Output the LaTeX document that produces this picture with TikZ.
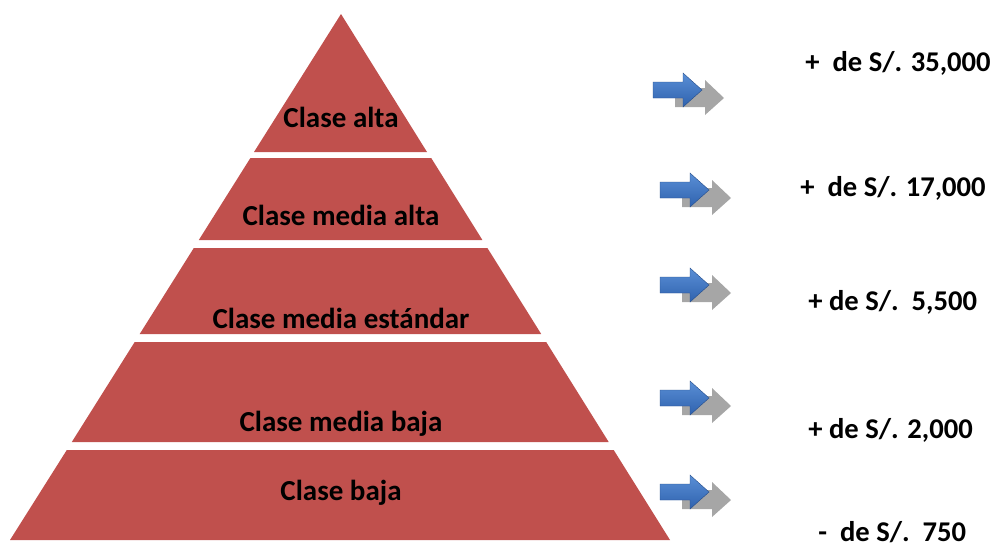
\documentclass[tikz,border=0pt]{standalone}
\usepackage{fontspec}
\setmainfont{Carlito}
\usepackage{xcolor}
\definecolor{bandred}{HTML}{C0504D}
\definecolor{arrowtop}{HTML}{5A8FD6}
\definecolor{arrowbot}{HTML}{2F62AE}
\definecolor{arrowgray}{HTML}{A6A6A6}

\tikzset{
    band/.style={fill=bandred, draw=none},
    classlabel/.style={font=\fontsize{14.5}{17}\selectfont\bfseries, text=black, inner sep=0pt},
    pricelabel/.style={font=\fontsize{14.3}{17}\selectfont\bfseries, text=black, inner sep=0pt, anchor=west},
    pics/arrowpair/.style={
        code={
            \fill[arrowgray] (22,-2) -- (52,-2) -- (52,-10) -- (71,8) -- (52,25) -- (52,17) -- (22,17) -- cycle;
            \path[top color=arrowtop, bottom color=arrowbot, draw=arrowbot!80!black, line width=0.2pt]
                (0,-8) -- (30,-8) -- (30,-17) -- (49,0) -- (30,17) -- (30,8) -- (0,8) -- cycle;
        }
    },
}

\begin{document}
\begin{tikzpicture}[x=0.5pt, y=-0.5pt]
        \useasboundingbox (0,0) rectangle (994,547);

        % bands of the pyramid
        \fill[band] (341,14) -- (427,152) -- (254,152) -- cycle;
        \fill[band] (250.4,158) -- (431.2,158) -- (482.4,240) -- (198.8,240) -- cycle;
        \fill[band] (193.8,248) -- (487.4,248) -- (541.2,334) -- (139.7,334) -- cycle;
        \fill[band] (134.7,342) -- (546.2,342) -- (608.7,442) -- (71.8,442) -- cycle;
        \fill[band] (66.8,450) -- (613.7,450) -- (670,540) -- (10,540) -- cycle;

        % class names
        \node[classlabel] (alta) at (341,117) {Clase alta};
        \node[classlabel] (mediaalta) at (341,215) {Clase media alta};
        \node[classlabel] (mediaestandar) at (341,318) {Clase media estándar};
        \node[classlabel] (mediabaja) at (341,424) {Clase media baja};
        \node[classlabel] (baja) at (341,493) {Clase baja};

        % arrows
        \pic (arralta) at (653,90) {arrowpair};
        \pic (arrmediaalta) at (660,190) {arrowpair};
        \pic (arrmediaestandar) at (660,285) {arrowpair};
        \pic (arrmediabaja) at (660,398) {arrowpair};
        \pic (arrbaja) at (660,492) {arrowpair};

        % incomes
        \node[pricelabel] (ingalta) at (805,63) {+\ \ de S/. 35,000};
        \node[pricelabel] (ingmediaalta) at (800,188) {+\ \ de S/. 17,000};
        \node[pricelabel] (ingmediaestandar) at (808,302) {+ de S/.\ \ 5,500};
        \node[pricelabel] (ingmediabaja) at (808,430) {+ de S/. 2,000};
        \node[pricelabel] (ingbaja) at (818,532) {-\ \ de S/.\ \ 750};
\end{tikzpicture}
\end{document}
